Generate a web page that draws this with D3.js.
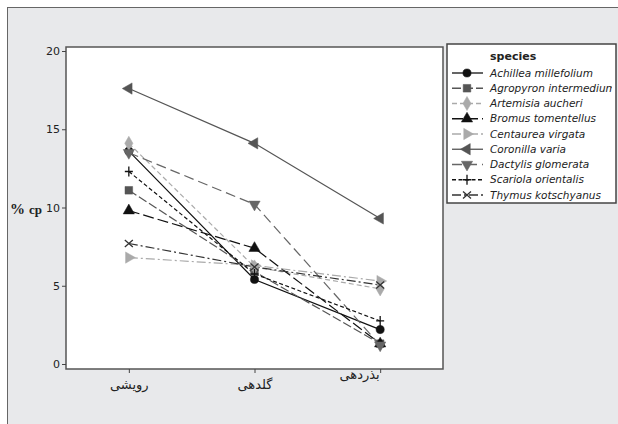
<!DOCTYPE html>
<html>
<head>
<meta charset="utf-8">
<script src="https://cdn.jsdelivr.net/npm/d3@7"></script>
<style>
body { margin: 0; background: #fff; }
svg { display: block; }
.axis path, .axis line { stroke: #444; }
.axis text { font-family: "DejaVu Sans", sans-serif; font-size: 10.5px; fill: #222; }
.legend text { font-family: "DejaVu Sans", sans-serif; font-size: 10.5px; font-style: italic; fill: #222; }
</style>
</head>
<body>
<script>
// growth stages on x
var stages = ["رویشی", "گلدهی", "بذردهی"];
var yTicks = [0, 5, 10, 15, 20];

// species names, in legend order
var species = ["Achillea millefolium", "Agropyron intermedium", "Artemisia aucheri",
  "Bromus tomentellus", "Centaurea virgata", "Coronilla varia",
  "Dactylis glomerata", "Scariola orientalis", "Thymus kotschyanus"];

// % cp per stage
var achillea  = [13.6, 5.4, 2.2];
var agropyron = [11.1, 5.9, 1.3];
var artemisia = [14.1, 6.2, 4.8];
var bromus    = [9.8, 7.4, 1.3];
var centaurea = [6.8, 6.3, 5.3];
var coronilla = [17.6, 14.1, 9.3];
var dactylis  = [13.5, 10.2, 1.2];
var scariola  = [12.3, 5.75, 2.75];
var thymus    = [7.7, 6.2, 5.05];

var values = [achillea, agropyron, artemisia, bromus, centaurea, coronilla, dactylis, scariola, thymus];

// style per species: color, dash, marker
var colors  = ["#111", "#555", "#aaa", "#111", "#aaa", "#555", "#666", "#111", "#333"];
var dashes  = [null, "9,3", "5,3", "11,4", "9,3,2,3", null, "10,5", "4,2.5", "9,3,2,3"];
var markers = ["circle", "square", "diamond", "up", "right", "left", "down", "plus", "x"];

var W = 618, H = 424;
var plot = {left: 66, right: 443, top: 47, bottom: 369};

var svg = d3.select("body").append("svg").attr("width", W).attr("height", H);

// outer gray panel
svg.append("rect")
  .attr("x", 7.5).attr("y", 7.5).attr("width", W).attr("height", H)
  .attr("fill", "#e8e9eb").attr("stroke", "#666").attr("stroke-width", 1);

var x = d3.scalePoint().domain(stages).range([plot.left, plot.right]).padding(0.5);
var y = d3.scaleLinear().domain([0, 20]).range([364, 51]);

// plot frame
svg.append("rect")
  .attr("x", plot.left).attr("y", plot.top)
  .attr("width", plot.right - plot.left).attr("height", plot.bottom - plot.top)
  .attr("fill", "#fff").attr("stroke", "#555").attr("stroke-width", 1.5);

// y axis
var yAxis = svg.append("g").attr("class", "axis")
  .attr("transform", "translate(" + plot.left + ",0)")
  .call(d3.axisLeft(y).tickValues(yTicks).tickSize(4).tickSizeOuter(0).tickPadding(2));
yAxis.select(".domain").remove();
yAxis.selectAll("text").style("font-size", "11px");

// x axis
var xAxis = svg.append("g").attr("class", "axis")
  .attr("transform", "translate(0," + plot.bottom + ")")
  .call(d3.axisBottom(x).tickSize(4).tickSizeOuter(0).tickPadding(7));
xAxis.select(".domain").remove();
xAxis.selectAll("text")
  .style("font-size", "13px")
  .attr("direction", "rtl");
// last label sits higher and to the left of its tick, as in the original
xAxis.selectAll(".tick").filter(function(d, i) { return i == 2; }).select("text")
  .attr("y", 1).attr("text-anchor", "start").attr("x", -1);

// y label
var ylab = svg.append("text").attr("x", 10).attr("y", 214)
  .style("font-family", "'Liberation Serif', 'DejaVu Serif', serif").style("font-size", "15px").style("font-weight", "bold")
  .attr("fill", "#222");
ylab.append("tspan").text("%");
ylab.append("tspan").attr("dx", 4).style("font-size", "13px").text("cp");

// marker drawing
function markerPath(kind) {
  var tri = d3.symbol().type(d3.symbolTriangle).size(55)();
  switch (kind) {
    case "circle":  return {d: d3.symbol().type(d3.symbolCircle).size(52)(), rot: 0, fill: true};
    case "square":  return {d: d3.symbol().type(d3.symbolSquare).size(58)(), rot: 0, fill: true};
    case "diamond": return {d: d3.symbol().type(d3.symbolDiamond).size(58)(), rot: 0, fill: true};
    case "up":      return {d: tri, rot: 0, fill: true};
    case "right":   return {d: tri, rot: 90, fill: true};
    case "down":    return {d: tri, rot: 180, fill: true};
    case "left":    return {d: tri, rot: -90, fill: true};
    case "plus":    return {d: "M-4,0L4,0M0,-5L0,5", rot: 0, fill: false};
    case "x":       return {d: "M-4,-3.5L4,3.5M-4,3.5L4,-3.5", rot: 0, fill: false};
  }
}

function drawMarker(g, kind, color, cx, cy) {
  var m = markerPath(kind);
  g.append("path")
    .attr("d", m.d)
    .attr("transform", "translate(" + cx + "," + cy + ") rotate(" + m.rot + ")")
    .attr("fill", m.fill ? color : "none")
    .attr("stroke", color)
    .attr("stroke-width", m.fill ? 0.5 : 1.3);
}

var line = d3.line()
  .x(function(d, i) { return x(stages[i]); })
  .y(function(d) { return y(d); });

var lines = svg.append("g");
values.forEach(function(v, i) {
  lines.append("path")
    .attr("d", line(v))
    .attr("fill", "none")
    .attr("stroke", colors[i])
    .attr("stroke-width", 1.2)
    .attr("stroke-dasharray", dashes[i]);
});
var marks = svg.append("g");
values.forEach(function(v, i) {
  v.forEach(function(d, j) {
    drawMarker(marks, markers[i], colors[i], x(stages[j]), y(d));
  });
});

// legend
var leg = {left: 447, top: 44, right: 616, bottom: 203};
svg.append("defs").append("clipPath").attr("id", "legclip")
  .append("rect").attr("x", leg.left).attr("y", leg.top)
  .attr("width", leg.right - leg.left - 4).attr("height", leg.bottom - leg.top);

var lg = svg.append("g").attr("class", "legend");
lg.append("rect")
  .attr("x", leg.left).attr("y", leg.top)
  .attr("width", leg.right - leg.left).attr("height", leg.bottom - leg.top)
  .attr("fill", "#fff").attr("stroke", "#444").attr("stroke-width", 1.5);
lg.append("text").attr("x", 490).attr("y", 60)
  .style("font-style", "normal").style("font-weight", "bold").style("font-size", "11px")
  .text("species");

var rowY = d3.scaleLinear().domain([0, 8]).range([73, 195]);
var items = lg.append("g").attr("clip-path", "url(#legclip)");
species.forEach(function(s, i) {
  var cy = rowY(i);
  items.append("line")
    .attr("x1", 452).attr("x2", 483).attr("y1", cy).attr("y2", cy)
    .attr("stroke", colors[i]).attr("stroke-width", 1.3)
    .attr("stroke-dasharray", dashes[i]);
  drawMarker(items, markers[i], colors[i], 467, cy);
  items.append("text").attr("x", 490).attr("y", cy + 3.5).text(s);
});
</script>
</body>
</html>
